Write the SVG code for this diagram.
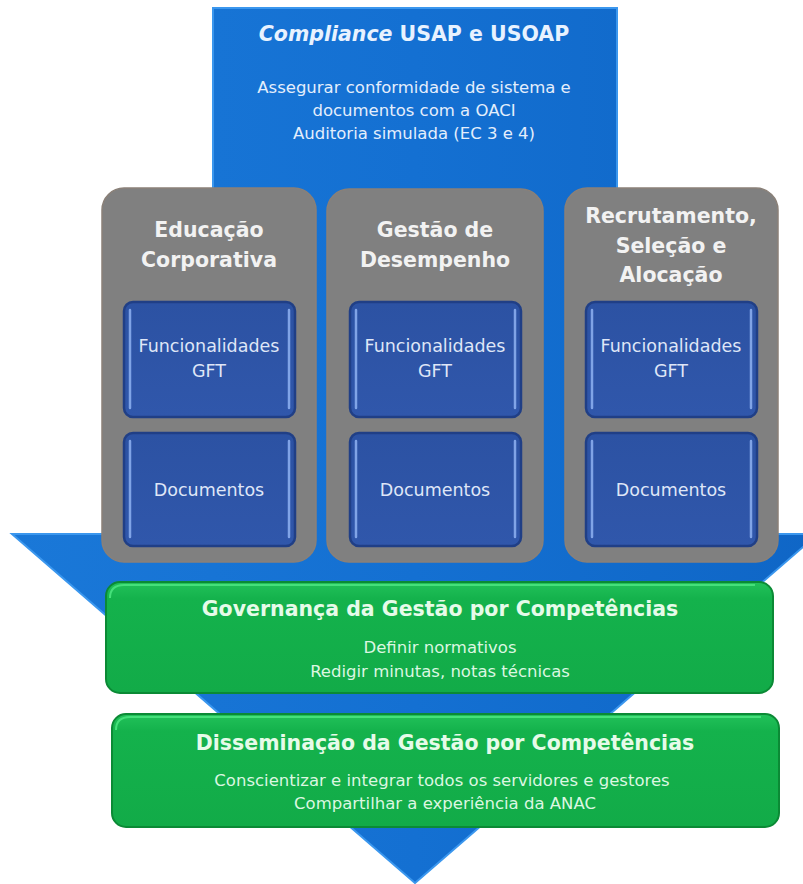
<svg xmlns="http://www.w3.org/2000/svg" width="803" height="884" viewBox="0 0 803 884">
  <defs>
    <linearGradient id="arrowGrad" x1="0" y1="0" x2="1" y2="0">
      <stop offset="0" stop-color="#1a78d8"/>
      <stop offset="0.5" stop-color="#1470d2"/>
      <stop offset="1" stop-color="#0f66c6"/>
    </linearGradient>
    <linearGradient id="greenGrad" x1="0" y1="0" x2="0" y2="1">
      <stop offset="0" stop-color="#22c25a"/>
      <stop offset="0.15" stop-color="#14b24c"/>
      <stop offset="1" stop-color="#12ab48"/>
    </linearGradient>
    <linearGradient id="innerGrad" x1="0" y1="0" x2="0" y2="1">
      <stop offset="0" stop-color="#2c52a3"/>
      <stop offset="1" stop-color="#3057ab"/>
    </linearGradient>
    <style>
      .arrow { fill: url(#arrowGrad); stroke: #3b97ee; stroke-width: 2; stroke-linejoin: miter; }
      .gray { fill: #808080; stroke: #8a8078; stroke-width: 1.5; }
      .inner { fill: url(#innerGrad); stroke: #203f86; stroke-width: 2.5; }
      .hl { stroke: #8fb2f2; stroke-width: 2.5; stroke-linecap: round; opacity: 0.85; }
      .green { fill: url(#greenGrad); stroke: #0b8a35; stroke-width: 2; }
      .gtop { fill: none; stroke: #45e07a; stroke-width: 2; }
      text { font-family: "DejaVu Sans", "Liberation Sans", sans-serif; text-anchor: middle; }
      .title { font-weight: bold; font-size: 20.5px; fill: #e8f2ff; }
      .sub { font-size: 16.5px; fill: #e4eefc; }
      .ghead { font-weight: bold; font-size: 20.5px; fill: #f2f2f2; }
      .itext { font-size: 17.5px; fill: #dfe6f7; }
      .gtitle { font-weight: bold; font-size: 20.5px; fill: #e6fbe9; }
      .gsub { font-size: 16.5px; fill: #dcf7e1; }
    </style>
  </defs>

  <g id="arrow">
    <polygon class="arrow" points="213,8 617,8 617,534 818,534 415,883 12,534 213,534"/>
  </g>

  <g id="compliance">
    <text class="title" x="414" y="41"><tspan font-style="italic">Compliance</tspan> USAP e USOAP</text>
    <text class="sub" x="414" y="93">Assegurar conformidade de sistema e</text>
    <text class="sub" x="414" y="116">documentos com a OACI</text>
    <text class="sub" x="414" y="139">Auditoria simulada (EC 3 e 4)</text>
  </g>

  <g id="educacao">
    <rect class="gray" x="102" y="188" width="214" height="374" rx="22"/>
    <text class="ghead" x="209" y="237">Educação</text>
    <text class="ghead" x="209" y="267">Corporativa</text>
  </g>
  <g id="gestao-desempenho">
    <rect class="gray" x="327" y="189" width="216" height="373" rx="22"/>
    <text class="ghead" x="435" y="237">Gestão de</text>
    <text class="ghead" x="435" y="267">Desempenho</text>
  </g>
  <g id="recrutamento">
    <rect class="gray" x="565" y="188" width="213" height="374" rx="22"/>
    <text class="ghead" x="671" y="223">Recrutamento,</text>
    <text class="ghead" x="671" y="253">Seleção e</text>
    <text class="ghead" x="671" y="282">Alocação</text>
  </g>

  <g id="func-ec">
    <rect class="inner" x="124" y="302" width="171" height="115" rx="9"/>
    <line class="hl" x1="130" y1="310" x2="130" y2="408"/>
    <line class="hl" x1="289" y1="310" x2="289" y2="408"/>
    <text class="itext" x="209" y="352">Funcionalidades</text>
    <text class="itext" x="209" y="377">GFT</text>
  </g>
  <g id="doc-ec">
    <rect class="inner" x="124" y="433" width="171" height="113" rx="9"/>
    <line class="hl" x1="130" y1="441" x2="130" y2="537"/>
    <line class="hl" x1="289" y1="441" x2="289" y2="537"/>
    <text class="itext" x="209" y="496">Documentos</text>
  </g>
  <g id="func-gd">
    <rect class="inner" x="350" y="302" width="171" height="115" rx="9"/>
    <line class="hl" x1="356" y1="310" x2="356" y2="408"/>
    <line class="hl" x1="515" y1="310" x2="515" y2="408"/>
    <text class="itext" x="435" y="352">Funcionalidades</text>
    <text class="itext" x="435" y="377">GFT</text>
  </g>
  <g id="doc-gd">
    <rect class="inner" x="350" y="433" width="171" height="113" rx="9"/>
    <line class="hl" x1="356" y1="441" x2="356" y2="537"/>
    <line class="hl" x1="515" y1="441" x2="515" y2="537"/>
    <text class="itext" x="435" y="496">Documentos</text>
  </g>
  <g id="func-rs">
    <rect class="inner" x="586" y="302" width="171" height="115" rx="9"/>
    <line class="hl" x1="592" y1="310" x2="592" y2="408"/>
    <line class="hl" x1="751" y1="310" x2="751" y2="408"/>
    <text class="itext" x="671" y="352">Funcionalidades</text>
    <text class="itext" x="671" y="377">GFT</text>
  </g>
  <g id="doc-rs">
    <rect class="inner" x="586" y="433" width="171" height="113" rx="9"/>
    <line class="hl" x1="592" y1="441" x2="592" y2="537"/>
    <line class="hl" x1="751" y1="441" x2="751" y2="537"/>
    <text class="itext" x="671" y="496">Documentos</text>
  </g>

  <g id="governanca">
    <rect class="green" x="106" y="582" width="667" height="111" rx="14"/>
    <path class="gtop" d="M110,598 Q110,585 124,585 L755,585"/>
    <text class="gtitle" x="440" y="616">Governança da Gestão por Competências</text>
    <text class="gsub" x="440" y="653">Definir normativos</text>
    <text class="gsub" x="440" y="677">Redigir minutas, notas técnicas</text>
  </g>

  <g id="disseminacao">
    <rect class="green" x="112" y="714" width="667" height="113" rx="14"/>
    <path class="gtop" d="M116,730 Q116,717 130,717 L761,717"/>
    <text class="gtitle" x="445" y="750">Disseminação da Gestão por Competências</text>
    <text class="gsub" x="442" y="786">Conscientizar e integrar todos os servidores e gestores</text>
    <text class="gsub" x="445" y="809">Compartilhar a experiência da ANAC</text>
  </g>
</svg>
